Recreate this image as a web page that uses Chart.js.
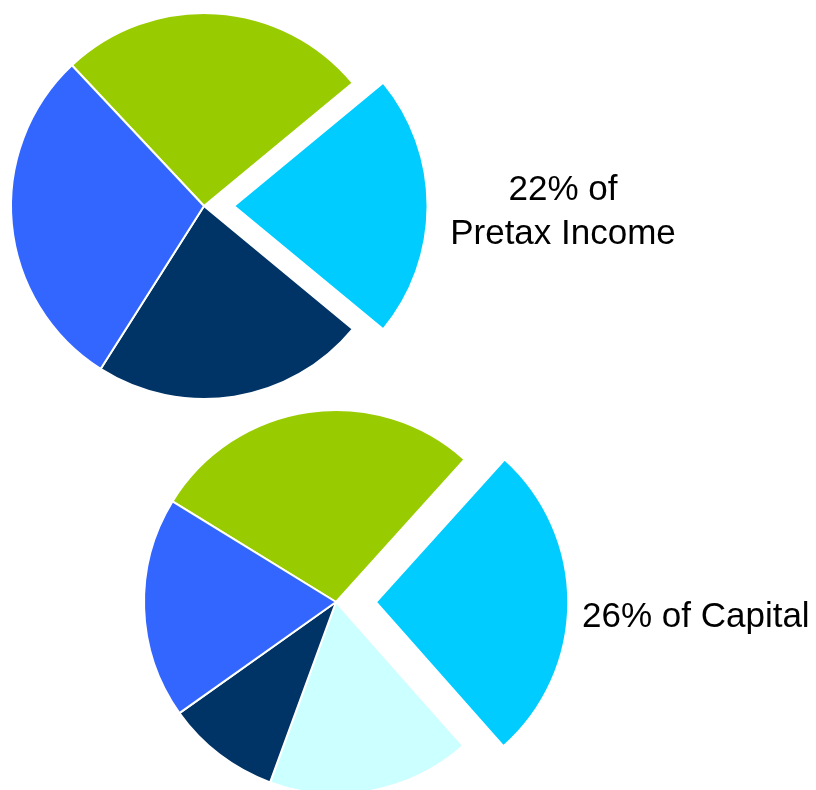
<!DOCTYPE html>
<html>
<head>
<meta charset="utf-8">
<script src="https://cdn.jsdelivr.net/npm/chart.js@4/dist/chart.umd.min.js"></script>
<style>
  html, body { margin: 0; padding: 0; width: 816px; height: 790px; overflow: hidden; background: #ffffff; }
  canvas { position: absolute; }
  .lbl { position: absolute; font-family: "Liberation Sans", Arial, sans-serif; font-size: 35px; color: #000; white-space: nowrap; }
</style>
</head>
<body>
<canvas id="pieTop" width="480" height="412" style="left:-36px; top:0px;"></canvas>
<canvas id="pieBottom" width="560" height="404" style="left:56px; top:400px;"></canvas>
<div class="lbl" style="left:363px; top:166px; width:400px; text-align:center; line-height:44px;">22% of<br>Pretax Income</div>
<div class="lbl" style="left:582px; top:597px; line-height:35px;">26% of Capital</div>
<script>
// ---- data ----
const topCategories = ['Segment A', 'Segment B', 'Segment C', 'Segment D'];
const topValues = [26, 22, 23, 29];           // percent of pretax income
const topColors = ['#99CC00', '#00CCFF', '#003366', '#3366FF'];
const topExploded = [0, 1, 0, 0];

const bottomCategories = ['Segment A', 'Segment B', 'Segment E', 'Segment C', 'Segment D'];
const bottomValues = [27.9, 26.8, 17.1, 9.6, 18.6]; // percent of capital
const bottomColors = ['#99CC00', '#00CCFF', '#CCFFFF', '#003366', '#3366FF'];
const bottomExploded = [0, 1, 0, 0, 0];

function makePie(id, labels, values, colors, exploded, rotation, radius, offsetPx) {
  new Chart(document.getElementById(id), {
    type: 'pie',
    data: {
      labels: labels,
      datasets: [{
        data: values,
        backgroundColor: colors,
        borderColor: '#ffffff',
        borderWidth: 2,
        offset: exploded.map(e => e ? offsetPx * 4 : 0),
        hoverOffset: 0,
        clip: false
      }]
    },
    options: {
      responsive: false,
      animation: false,
      rotation: rotation,
      radius: radius,
      layout: { padding: 0 },
      plugins: { legend: { display: false }, tooltip: { enabled: false }, title: { display: false } },
      events: []
    }
  });
}

makePie('pieTop', topCategories, topValues, topColors, topExploded, -43.2, 193, 30);
makePie('pieBottom', bottomCategories, bottomValues, bottomColors, bottomExploded, -58.4, 192, 40);
</script>
</body>
</html>
